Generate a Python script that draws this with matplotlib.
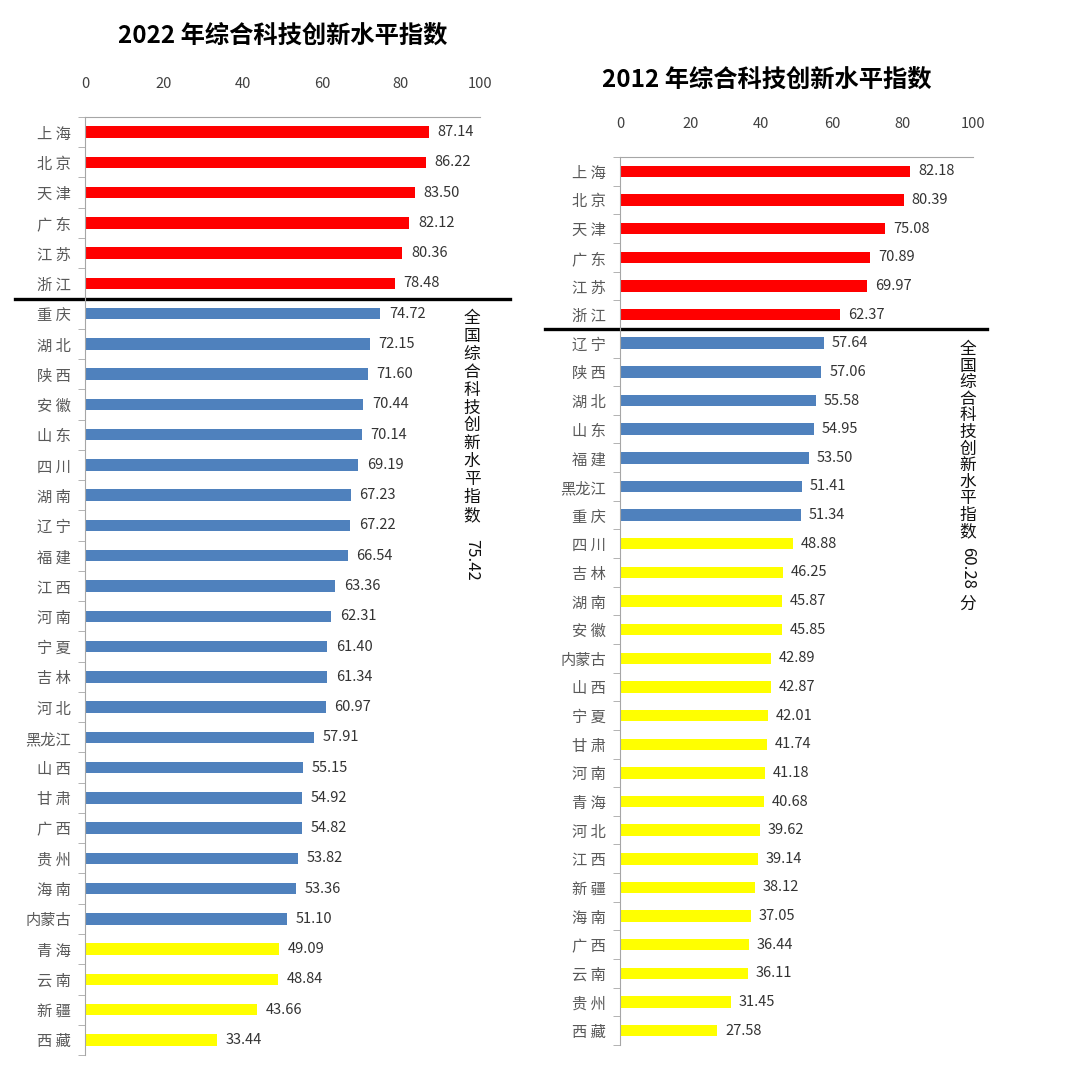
import matplotlib
matplotlib.use('Agg')
import matplotlib.pyplot as plt
import matplotlib.transforms as mtransforms
import numpy as np

plt.rcParams['font.family'] = ['Noto Sans CJK SC', 'DejaVu Sans']

# 2022
prov_2022 = ['上海', '北京', '天津', '广东', '江苏', '浙江', '重庆', '湖北', '陕西', '安徽',
             '山东', '四川', '湖南', '辽宁', '福建', '江西', '河南', '宁夏', '吉林', '河北',
             '黑龙江', '山西', '甘肃', '广西', '贵州', '海南', '内蒙古', '青海', '云南', '新疆', '西藏']
val_2022 = [87.14, 86.22, 83.50, 82.12, 80.36, 78.48, 74.72, 72.15, 71.60, 70.44,
            70.14, 69.19, 67.23, 67.22, 66.54, 63.36, 62.31, 61.40, 61.34, 60.97,
            57.91, 55.15, 54.92, 54.82, 53.82, 53.36, 51.10, 49.09, 48.84, 43.66, 33.44]
nat_2022 = '75.42'

# 2012
prov_2012 = ['上海', '北京', '天津', '广东', '江苏', '浙江', '辽宁', '陕西', '湖北', '山东',
             '福建', '黑龙江', '重庆', '四川', '吉林', '湖南', '安徽', '内蒙古', '山西', '宁夏',
             '甘肃', '河南', '青海', '河北', '江西', '新疆', '海南', '广西', '云南', '贵州', '西藏']
val_2012 = [82.18, 80.39, 75.08, 70.89, 69.97, 62.37, 57.64, 57.06, 55.58, 54.95,
            53.50, 51.41, 51.34, 48.88, 46.25, 45.87, 45.85, 42.89, 42.87, 42.01,
            41.74, 41.18, 40.68, 39.62, 39.14, 38.12, 37.05, 36.44, 36.11, 31.45, 27.58]
nat_2012 = '60.28'

n_top = 6
x_ticks = [0, 20, 40, 60, 80, 100]

fig = plt.figure(figsize=(10.8, 10.8), dpi=100)


def draw(rect, names, vals, title, title_xy, bh, line_x):
    ax = fig.add_axes(rect)
    y = np.arange(len(vals))
    cols = []
    for i, v in enumerate(vals):
        if i < n_top:
            cols.append('#FF0000')
        elif v >= 50:
            cols.append('#4F81BD')
        else:
            cols.append('#FFFF00')
    ax.barh(y, vals, height=bh, color=cols, edgecolor='none')
    for i, v in enumerate(vals):
        ax.text(v + 2.2, i, '%.2f' % v, va='center', ha='left', fontsize=10.5, color='#333333')
    labels = [' '.join(n) if len(n) == 2 else n for n in names]
    ax.set_yticks(y)
    ax.set_yticklabels(labels, fontsize=11, color='#595959')
    ax.set_yticks(np.arange(len(vals) + 1) - 0.5, minor=True)
    ax.tick_params(axis='y', which='major', length=0, pad=10)
    ax.tick_params(axis='y', which='minor', length=5, color='#A6A6A6')
    ax.set_ylim(len(vals) - 0.5, -0.5)
    ax.set_xlim(0, 100)
    ax.xaxis.tick_top()
    ax.set_xticks(x_ticks)
    ax.tick_params(axis='x', length=0, pad=19, labelsize=10.5, labelcolor='#404040')
    for s in ['right', 'bottom']:
        ax.spines[s].set_visible(False)
    for s in ['top', 'left']:
        ax.spines[s].set_color('#A6A6A6')
    trans = mtransforms.blended_transform_factory(ax.transAxes, ax.transData)
    ax.plot(line_x, [n_top - 0.5, n_top - 0.5], color='black', lw=2.4,
            transform=trans, clip_on=False)
    fig.text(title_xy[0], title_xy[1], title, ha='center', va='center',
             fontsize=17.5, fontweight='bold')
    return ax


draw([0.0787, 0.0231, 0.3657, 0.8686], prov_2022, val_2022,
     '2022 年综合科技创新水平指数', (0.262, 0.966), 0.38, [-0.177, 1.076])
draw([0.5741, 0.0324, 0.3269, 0.8222], prov_2012, val_2012,
     '2012 年综合科技创新水平指数', (0.710, 0.925), 0.40, [-0.212, 1.04])

# vertical national-index notes
head = '\n'.join('全国综合科技创新水平指数')
fig.text(0.437, 1 - 310 / 1080, head, ha='center', va='top', fontsize=12,
         linespacing=1.07, color='#111111')
fig.text(0.437, 1 - 539 / 1080, nat_2022, ha='center', va='top', fontsize=12,
         rotation=-90, color='#111111')

fig.text(0.896, 1 - 341 / 1080, head, ha='center', va='top', fontsize=12,
         linespacing=0.97, color='#111111')
fig.text(0.896, 1 - 547 / 1080, nat_2012, ha='center', va='top', fontsize=12,
         rotation=-90, color='#111111')
fig.text(0.896, 1 - 596 / 1080, '分', ha='center', va='top', fontsize=12,
         color='#111111')

fig.savefig('out.png', dpi=100, facecolor='white')
